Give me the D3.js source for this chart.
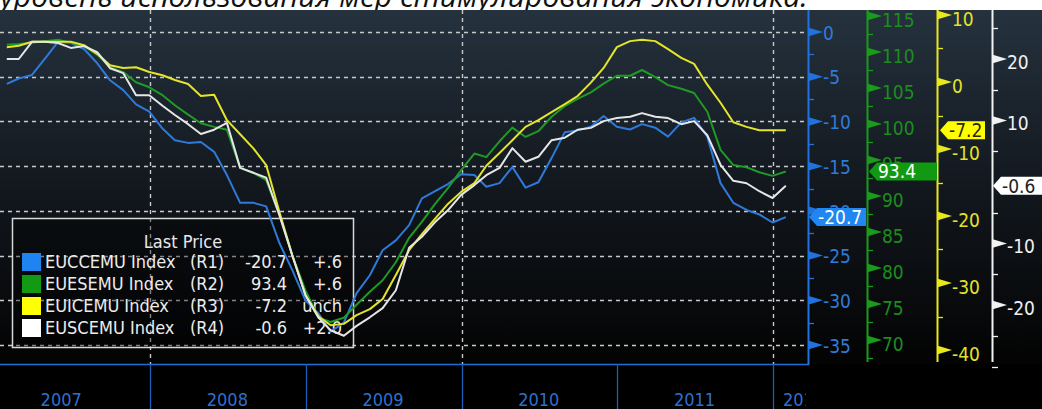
<!DOCTYPE html>
<html>
<head>
<meta charset="utf-8">
<script src="https://cdn.jsdelivr.net/npm/d3@7"></script>
<style>
  body { margin: 0; background: #fff; }
  svg { display: block; }
</style>
</head>
<body>
<div id="chart"></div>
<script>
// monthly readings, Jan 2007 .. Jan 2012 (month end)
const startMonth = new Date(2007, 0, 1);
const years = [2007, 2008, 2009, 2010, 2011, 2012];

const euccemu = [
  -5.8, -5.2, -4.8, -3.0, -1.1, -1.2, -1.9, -3.5, -5.4, -6.5, -8.1, -8.9,
  -10.8, -12.1, -12.4, -12.3, -13.4, -16.0, -19.1, -19.1, -19.5, -23.6, -26.6, -30.0,
  -31.5, -33.5, -32.5, -29.2, -27.2, -24.4, -23.3, -21.6, -18.6, -17.8, -17.0, -15.9,
  -16.0, -17.3, -16.9, -15.1, -17.4, -16.8, -14.1, -11.2, -11.0, -10.6, -9.4, -10.6,
  -10.9, -10.3, -10.7, -11.7, -10.1, -9.6, -11.7, -16.9, -19.1, -19.9, -20.4, -21.3,
  -20.7
];
const euesemu = [
  111.0, 111.1, 111.3, 111.5, 111.7, 111.3, 110.8, 109.6, 107.9, 107.2, 105.8, 105.1,
  104.0, 102.6, 101.3, 100.1, 99.6, 99.2, 93.9, 93.2, 92.2, 87.4, 81.8, 76.9,
  73.1, 72.5, 73.1, 74.9, 76.7, 78.3, 80.8, 84.2, 86.4, 88.9, 91.1, 93.6,
  95.9, 95.4, 97.6, 99.5, 98.2, 99.0, 101.0, 102.5, 103.5, 104.4, 105.6, 106.7,
  106.7, 107.5, 106.5, 105.4, 104.9, 104.3, 101.7, 96.4, 94.3, 94.0, 93.3, 92.8,
  93.4
];
const euicemu = [
  5.2, 5.4, 6.0, 6.0, 6.0, 6.0, 5.5, 4.2, 2.5, 2.1, 2.2, 1.5,
  1.0, 0.3, -0.3, -2.1, -1.9, -5.7, -7.8, -9.9, -12.4, -19.4, -25.8, -31.8,
  -35.0, -36.3, -36.1, -34.8, -33.9, -32.4, -28.8, -25.1, -22.7, -20.4, -18.2, -16.4,
  -15.1, -12.5, -10.6, -8.7, -6.7, -5.7, -4.5, -3.3, -2.1, -0.1, 2.1, 5.2,
  6.1, 6.3, 6.1, 4.9, 3.6, 2.7, -0.4, -3.1, -6.0, -6.7, -7.2, -7.2,
  -7.2
];
const euscemu = [
  20.0, 20.0, 22.8, 22.8, 22.6, 21.8, 22.1, 21.1, 18.5, 17.7, 14.1, 14.1,
  12.4, 10.9, 9.4, 7.8, 8.5, 9.6, 2.3, 1.5, 0.7, -5.4, -11.9, -18.4,
  -22.1, -24.1, -25.0, -23.4, -22.0, -20.5, -17.6, -10.7, -8.9, -6.5, -4.6, -2.1,
  -0.5, 1.1, 2.3, 5.5, 3.3, 4.1, 6.8, 7.2, 8.5, 8.8, 9.9, 10.4,
  10.6, 11.2, 10.6, 10.4, 9.4, 9.9, 7.6, 2.8, 0.2, -0.2, -1.5, -2.6,
  -0.6
];

const legendNames = ["EUCCEMU Index", "EUESEMU Index", "EUICEMU Index", "EUSCEMU Index"];
const legendAxes = ["(R1)", "(R2)", "(R3)", "(R4)"];
const legendLast = ["-20.7", "93.4", "-7.2", "-0.6"];
const legendChange = ["+.6", "+.6", "unch", "+2.0"];

const blueTicks = [0, -5, -10, -15, -20, -25, -30, -35];
const greenTicks = [70, 75, 80, 85, 90, 95, 100, 105, 110, 115];
const yellowTicks = [10, 0, -10, -20, -30, -40];
const whiteTicks = [20, 10, -10, -20];

const titleText = "уровень использования мер стимулирования экономика.";

const W = 1042, H = 409;
const plotTop = 10, plotBottom = 364, plotRight = 808;
const font = "'Liberation Sans Narrow', 'DejaVu Sans Condensed', 'Roboto Condensed', 'Arial Narrow', sans-serif";

const svg = d3.select("#chart").append("svg")
  .attr("width", W)
  .attr("height", H);

const defs = svg.append("defs");
const grad = defs.append("linearGradient")
  .attr("id", "bg").attr("x1", 0).attr("x2", 0).attr("y1", 0).attr("y2", 1);
grad.append("stop").attr("offset", "0%").attr("stop-color", "#25323e");
grad.append("stop").attr("offset", "45%").attr("stop-color", "#141a21");
grad.append("stop").attr("offset", "100%").attr("stop-color", "#030303");

defs.append("clipPath").attr("id", "plotclip")
  .append("rect").attr("x", 0).attr("y", plotTop).attr("width", plotRight).attr("height", plotBottom - plotTop);
defs.append("clipPath").attr("id", "yearclip")
  .append("rect").attr("x", 0).attr("y", plotBottom).attr("width", plotRight - 2).attr("height", H - plotBottom);

// cut-off caption above the chart
svg.append("text")
  .attr("x", 0).attr("y", 7)
  .attr("font-family", "'Open Sans', sans-serif")
  .attr("font-style", "italic")
  .attr("font-size", 30)
  .attr("fill", "#111")
  .text(titleText);

svg.append("rect")
  .attr("x", 0).attr("y", plotTop).attr("width", W).attr("height", plotBottom - plotTop)
  .attr("fill", "url(#bg)");
svg.append("rect")
  .attr("x", 0).attr("y", plotBottom).attr("width", W).attr("height", H - plotBottom)
  .attr("fill", "#000");

const dates = euccemu.map((d, i) => new Date(startMonth.getFullYear(), startMonth.getMonth() + i + 1, 0));

const x = d3.scaleTime()
  .domain([new Date(2007, 0, 1), new Date(2012, 0, 1)])
  .range([-6, 773]);
const yBlue = d3.scaleLinear().domain([0, -35]).range([32, 345]);
const yGreen = d3.scaleLinear().domain([70, 115]).range([340, 16]);
const yYellow = d3.scaleLinear().domain([10, -40]).range([15, 350]);
const yWhite = d3.scaleLinear().domain([20, -20]).range([59, 305]);

// grid
const grid = svg.append("g")
  .attr("stroke", "#c9c9c9")
  .attr("stroke-width", 1.4)
  .attr("stroke-dasharray", "4,4");
grid.selectAll("line.h")
  .data(blueTicks)
  .enter().append("line")
  .attr("x1", 0).attr("x2", plotRight)
  .attr("y1", d => Math.round(yBlue(d)) + 0.5)
  .attr("y2", d => Math.round(yBlue(d)) + 0.5);
grid.selectAll("line.v")
  .data([2008, 2010, 2012])
  .enter().append("line")
  .attr("x1", d => Math.round(x(new Date(d, 0, 1))) + 0.5)
  .attr("x2", d => Math.round(x(new Date(d, 0, 1))) + 0.5)
  .attr("y1", plotTop).attr("y2", plotBottom);

// legend box (behind lines)
const legend = svg.append("g");
legend.append("rect")
  .attr("x", 12.5).attr("y", 218.5).attr("width", 341).attr("height", 129)
  .attr("fill", "rgba(0,0,0,0.35)")
  .attr("stroke", "#d8d8d8")
  .attr("stroke-width", 1.5);
legend.append("text")
  .attr("x", 183).attr("y", 248)
  .attr("text-anchor", "middle")
  .attr("font-family", font).attr("font-size", 18)
  .attr("fill", "#e8e8e8")
  .text("Last Price");

const series = [
  { values: euccemu, y: yBlue, color: "#2f7ad9" },
  { values: euesemu, y: yGreen, color: "#1f9a24" },
  { values: euicemu, y: yYellow, color: "#e4e42a" },
  { values: euscemu, y: yWhite, color: "#e6e6e6" }
];
const swatch = ["#1f83f0", "#139a13", "#ffff00", "#ffffff"];

legendNames.forEach((name, i) => {
  const by = 268 + i * 22;
  legend.append("rect")
    .attr("x", 22).attr("y", by - 15).attr("width", 19).attr("height", 18)
    .attr("fill", swatch[i]);
  const t = (xx, anchor, s) => legend.append("text")
    .attr("x", xx).attr("y", by)
    .attr("text-anchor", anchor)
    .attr("font-family", font).attr("font-size", 18)
    .attr("fill", "#ececec")
    .text(s);
  t(45, "start", name);
  t(190, "start", legendAxes[i]);
  t(287, "end", legendLast[i]);
  t(342, "end", legendChange[i]);
});

// lines
const plot = svg.append("g").attr("clip-path", "url(#plotclip)");
series.forEach(s => {
  const line = d3.line()
    .x((d, i) => x(dates[i]))
    .y(d => s.y(d));
  plot.append("path")
    .datum(s.values)
    .attr("fill", "none")
    .attr("stroke", s.color)
    .attr("stroke-width", 2)
    .attr("stroke-linejoin", "round")
    .attr("d", line);
});

// frame
svg.append("line")
  .attr("x1", 0).attr("x2", plotRight + 0.5)
  .attr("y1", plotBottom + 0.5).attr("y2", plotBottom + 0.5)
  .attr("stroke", "#1f6fd6").attr("stroke-width", 1.5);

// year band
const yearG = svg.append("g").attr("clip-path", "url(#yearclip)");
yearG.selectAll("line")
  .data(years.slice(1))
  .enter().append("line")
  .attr("x1", d => Math.round(x(new Date(d, 0, 1))) + 0.5)
  .attr("x2", d => Math.round(x(new Date(d, 0, 1))) + 0.5)
  .attr("y1", plotBottom).attr("y2", H)
  .attr("stroke", "#1d5db5").attr("stroke-width", 1.3);
yearG.selectAll("text")
  .data(years)
  .enter().append("text")
  .attr("x", d => d === 2012 ? x(new Date(d, 0, 1)) + 10
    : d === 2007 ? x(new Date(d, 6, 1)) - 10 : x(new Date(d, 6, 1)))
  .attr("y", 406)
  .attr("text-anchor", d => d === 2012 ? "start" : "middle")
  .attr("font-family", font).attr("font-size", 18)
  .attr("fill", "#2f6fcc")
  .text(d => d);

// right-hand axes
function drawAxis(ax, scale, majors, minors, color, labelColor, y0, y1, labelDy) {
  const g = svg.append("g");
  g.append("line")
    .attr("x1", ax + 0.5).attr("x2", ax + 0.5)
    .attr("y1", y0).attr("y2", y1)
    .attr("stroke", color).attr("stroke-width", 2);
  g.selectAll("line.minor")
    .data(minors)
    .enter().append("line")
    .attr("x1", ax).attr("x2", ax + 6)
    .attr("y1", d => Math.round(scale(d)) + 0.5)
    .attr("y2", d => Math.round(scale(d)) + 0.5)
    .attr("stroke", color).attr("stroke-width", 1.3);
  g.selectAll("path.tri")
    .data(majors)
    .enter().append("path")
    .attr("d", d => {
      const yy = scale(d);
      return `M${ax},${yy - 4.5}L${ax + 15},${yy}L${ax},${yy + 4.5}Z`;
    })
    .attr("fill", color);
  g.selectAll("text")
    .data(majors)
    .enter().append("text")
    .attr("x", ax + 15)
    .attr("y", d => scale(d) + labelDy)
    .attr("dy", "0.35em")
    .attr("font-family", font).attr("font-size", 19)
    .attr("fill", labelColor)
    .text(d => d);
}

drawAxis(808, yBlue, blueTicks, [-2.5, -7.5, -12.5, -17.5, -22.5, -27.5, -32.5],
  "#1f72e0", "#2f7bd8", plotTop, plotBottom + 1, 1);
drawAxis(867, yGreen, greenTicks, [67.5, 72.5, 77.5, 82.5, 87.5, 92.5, 97.5, 102.5, 107.5, 112.5],
  "#1b9b1b", "#1e8c1e", plotTop, 362, 4);
drawAxis(937, yYellow, yellowTicks, [5, -5, -15, -25, -35],
  "#e8e81c", "#e2e22a", plotTop, 362, 4);
drawAxis(992, yWhite, whiteTicks, [25, 15, 5, -5, -15, -25, -30],
  "#f2f2f2", "#f0f0f0", plotTop, 362, 3);

// last value tags
const tags = [
  { x0: 809, x1: 866, y: yBlue(euccemu[euccemu.length - 1]), fill: "#1f86f2", text: "#ffffff", label: legendLast[0] },
  { x0: 869, x1: 937, y: yGreen(euesemu[euesemu.length - 1]), fill: "#119a11", text: "#ffffff", label: legendLast[1] },
  { x0: 940, x1: 985, y: yYellow(euicemu[euicemu.length - 1]), fill: "#ffff00", text: "#2a2400", label: legendLast[2] },
  { x0: 993, x1: 1042, y: yWhite(euscemu[euscemu.length - 1]), fill: "#ffffff", text: "#222", label: legendLast[3] }
];
tags.forEach(t => {
  svg.append("path")
    .attr("d", `M${t.x0},${t.y}L${t.x0 + 8},${t.y - 9}L${t.x1},${t.y - 9}L${t.x1},${t.y + 9}L${t.x0 + 8},${t.y + 9}Z`)
    .attr("fill", t.fill);
  svg.append("text")
    .attr("x", t.x0 + 9).attr("y", t.y)
    .attr("dy", "0.36em")
    .attr("font-family", font).attr("font-size", 19)
    .attr("fill", t.text)
    .text(t.label);
});
</script>
</body>
</html>
